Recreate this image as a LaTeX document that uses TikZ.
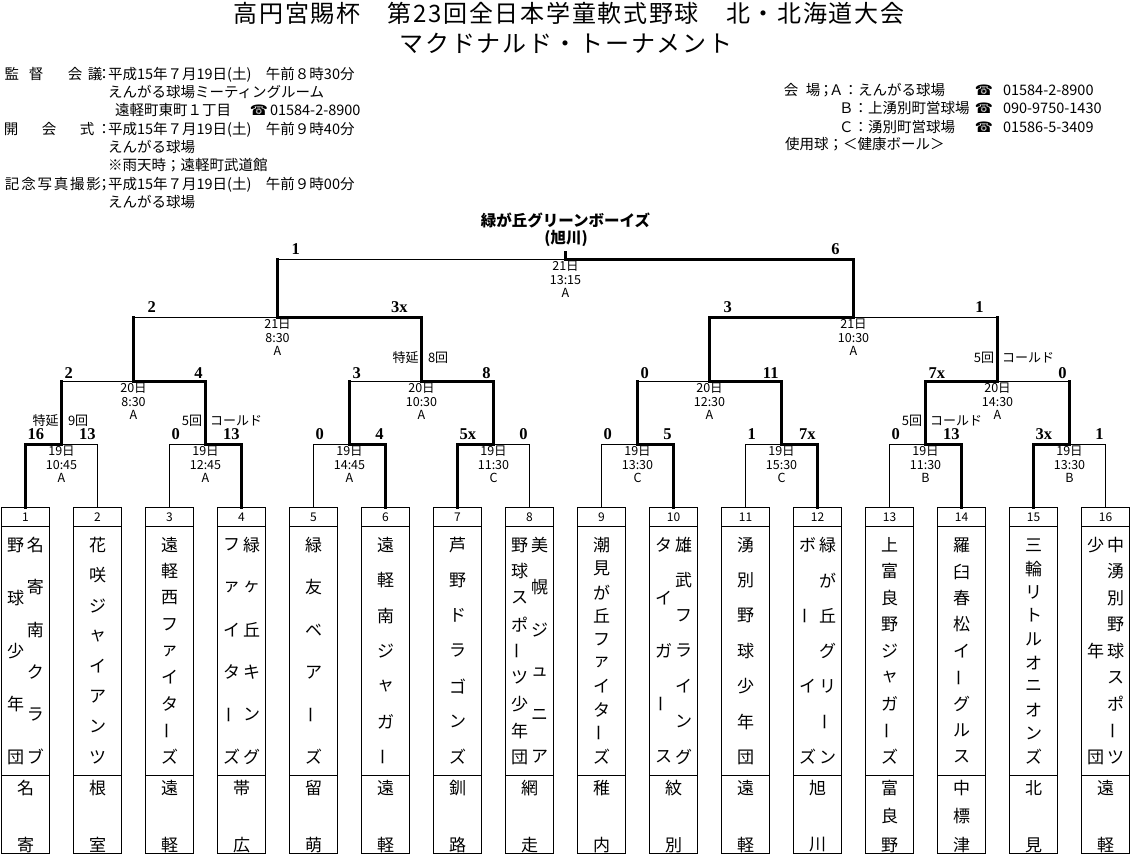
\documentclass[tikz,border=0pt]{standalone}
\usepackage{fontspec}
\setmainfont{Noto Sans CJK JP}
\newfontfamily\jptitle[LetterSpace=7]{Noto Sans CJK JP}
\newfontfamily\scorefont{Liberation Serif}
\newfontfamily\symfont{DejaVu Sans}
\newcommand\vcol[6]{%
  \foreach \ch [count=\k from 0] in {#6}{%
    \pgfmathsetmacro\yy{#3+\k*#4/(#5-1)}%
    \ifnum\strcmp{\ch}{ー}=0
      \node[teamch,rotate=90] (#1\k) at (#2,\yy) {\ch};%
    \else
      \node[teamch] (#1\k) at (#2,\yy) {\ch};%
    \fi
  }}
\newcommand\mdate[6]{%
  \node[dt] (#1d) at (#2,{#3+7.2}) {#4};
  \node[dt] (#1t) at (#2,{#3+20.8}) {#5};
  \node[dt] (#1v) at (#2,{#3+33.5}) {#6};}
\newcommand\scoreL[4]{\node[score,anchor=base west] (#1) at (#2,#3) {#4};}
\newcommand\scoreR[4]{\node[score,anchor=base east] (#1) at (#2,#3) {#4};}
\newcommand\winside[2]{\draw[win] (#1) |- (#2);}
\newcommand\loseside[2]{\draw[win] (#1) -- (#1 |- #2); \draw[lose] (#1 |- #2) -- (#2);}
\begin{document}
\begin{tikzpicture}[x=1pt,y=-1pt,
  every node/.style={inner sep=0pt,outer sep=0pt},
  hdr/.style={font=\fontsize{14.5}{16}\selectfont},
  tel/.style={font=\symfont\fontsize{14.5}{15}\selectfont},
  ttl/.style={font=\jptitle\fontsize{24}{26}\selectfont},
  wname/.style={font=\bfseries\fontsize{15.5}{16}\selectfont},
  win/.style={line width=3pt,line cap=rect},
  lose/.style={line width=1pt},
  score/.style={font=\scorefont\bfseries\fontsize{16.5}{17}\selectfont},
  dt/.style={font=\fontsize{12.5}{13}\selectfont},
  note/.style={font=\fontsize{13}{14}\selectfont},
  teamch/.style={font=\fontsize{17}{17}\selectfont},
  numlab/.style={font=\fontsize{12}{12}\selectfont},
  tbox/.style={draw,line width=1pt,minimum width=47.5pt,minimum height=346pt,anchor=north}]
\fill[white] (0,0) rectangle (1131,856);
\useasboundingbox (0,0) rectangle (1131,856);

% ---------- title ----------
\node[ttl] (title1) at (569,13) {高円宮賜杯　第23回全日本学童軟式野球　北・北海道大会};
\node[ttl] (title2) at (566,43) {マクドナルド・トーナメント};

% ---------- header left ----------
\foreach \c/\x [count=\k] in {監/12,督/36,会/75,議/95}{\node[hdr,anchor=base] (ha\k) at (\x,79.5) {\c};}
\node[hdr,anchor=base] (hac) at (104,79.5) {：};
\node[hdr,anchor=base west] (hat) at (108,79.5) {平成15年７月19日(土)　午前８時30分};
\node[hdr,anchor=base west] (hb) at (108,97.5) {えんがる球場ミーティングルーム};
\node[hdr,anchor=base west] (hc) at (115,115.5) {遠軽町東町１丁目};
\node[tel,anchor=base] (hct) at (259,115.5) {☎};
\node[hdr,anchor=base west] (hcn) at (270,115.5) {01584-2-8900};
\foreach \c/\x [count=\k] in {開/11,会/49,式/87}{\node[hdr,anchor=base] (hd\k) at (\x,134.5) {\c};}
\node[hdr,anchor=base] (hdc) at (104,134.5) {：};
\node[hdr,anchor=base west] (hdt) at (108,134.5) {平成15年７月19日(土)　午前９時40分};
\node[hdr,anchor=base west] (he) at (108,152.5) {えんがる球場};
\node[hdr,anchor=base west] (hf) at (108,170.5) {※雨天時；遠軽町武道館};
\foreach \c/\x [count=\k] in {記/12.2,念/28.5,写/44.8,真/61,撮/77.3,影/93.6}{\node[hdr,anchor=base] (hg\k) at (\x,189.5) {\c};}
\node[hdr,anchor=base] (hgc) at (104,189.5) {；};
\node[hdr,anchor=base west] (hgt) at (108,189.5) {平成15年７月19日(土)　午前９時00分};
\node[hdr,anchor=base west] (hh) at (108,207.5) {えんがる球場};

% ---------- header right ----------
\node[hdr,anchor=base] (ra1) at (791,95.5) {会};
\node[hdr,anchor=base] (ra2) at (813,95.5) {場};
\node[hdr,anchor=base] (ra3) at (826,95.5) {；};
\node[hdr,anchor=base west] (ra4) at (829,95.5) {Ａ：えんがる球場};
\node[tel,anchor=base] (rat) at (984,95.5) {☎};
\node[hdr,anchor=base west] (ran) at (1003,95.5) {01584-2-8900};
\node[hdr,anchor=base west] (rb) at (839,113.5) {Ｂ：上湧別町営球場};
\node[tel,anchor=base] (rbt) at (984,113.5) {☎};
\node[hdr,anchor=base west] (rbn) at (1003,113.5) {090-9750-1430};
\node[hdr,anchor=base west] (rc) at (839,132) {Ｃ：湧別町営球場};
\node[tel,anchor=base] (rct) at (984,132) {☎};
\node[hdr,anchor=base west] (rcn) at (1003,132) {01586-5-3409};
\node[hdr,anchor=base west] (rd) at (785,149.5) {使用球；＜健康ボール＞};

% ---------- champion ----------
\node[wname] (champname) at (565.5,220) {緑が丘グリーンボーイズ};
\node[wname] (champcity) at (566,238) {(旭川)};

% ---------- team boxes ----------
\foreach \i in {1,...,16}{
  \pgfmathsetmacro\cx{25.5+72*(\i-1)}
  \pgfmathsetmacro\lx{\cx-23.75}
  \pgfmathsetmacro\rx{\cx+23.75}
  \node[tbox] (b\i) at (\cx,507.5) {};
  \draw[lose] (\lx,526) -- (\rx,526);
  \draw[lose] (\lx,775) -- (\rx,775);
  \node[numlab] (n\i) at (\cx,517) {\i};
}

\vcol{t1r}{35.5}{545}{212}{6}{名,寄,南,ク,ラ,ブ}
\vcol{t1l}{15.5}{545}{212}{5}{野,球,少,年,団}
\vcol{c1}{25.5}{788}{57}{2}{名,寄}
\vcol{t2}{97.5}{545}{212}{8}{花,咲,ジ,ャ,イ,ア,ン,ツ}
\vcol{c2}{97.5}{788}{57}{2}{根,室}
\vcol{t3}{169.5}{545}{212}{9}{遠,軽,西,フ,ァ,イ,タ,ー,ズ}
\vcol{c3}{169.5}{788}{57}{2}{遠,軽}
\vcol{t4r}{251.5}{545}{212}{6}{緑,ヶ,丘,キ,ン,グ}
\vcol{t4l}{231.5}{545}{212}{6}{フ,ァ,イ,タ,ー,ズ}
\vcol{c4}{241.5}{788}{57}{2}{帯,広}
\vcol{t5}{313.5}{545}{212}{6}{緑,友,ベ,ア,ー,ズ}
\vcol{c5}{313.5}{788}{57}{2}{留,萌}
\vcol{t6}{385.5}{545}{212}{7}{遠,軽,南,ジ,ャ,ガ,ー}
\vcol{c6}{385.5}{788}{57}{2}{遠,軽}
\vcol{t7}{457.5}{545}{212}{7}{芦,野,ド,ラ,ゴ,ン,ズ}
\vcol{c7}{457.5}{788}{57}{2}{釧,路}
\vcol{t8r}{539.5}{545}{212}{6}{美,幌,ジ,ュ,ニ,ア}
\vcol{t8l}{519.5}{545}{212}{9}{野,球,ス,ポ,ー,ツ,少,年,団}
\vcol{c8}{529.5}{788}{57}{2}{網,走}
\vcol{t9}{601.5}{545}{212}{10}{潮,見,が,丘,フ,ァ,イ,タ,ー,ズ}
\vcol{c9}{601.5}{788}{57}{2}{稚,内}
\vcol{t10r}{683.5}{545}{212}{7}{雄,武,フ,ラ,イ,ン,グ}
\vcol{t10l}{663.5}{545}{212}{5}{タ,イ,ガ,ー,ス}
\vcol{c10}{673.5}{788}{57}{2}{紋,別}
\vcol{t11}{745.5}{545}{212}{7}{湧,別,野,球,少,年,団}
\vcol{c11}{745.5}{788}{57}{2}{遠,軽}
\vcol{t12r}{827.5}{545}{212}{7}{緑,が,丘,グ,リ,ー,ン}
\vcol{t12l}{807.5}{545}{212}{4}{ボ,ー,イ,ズ}
\vcol{c12}{817.5}{788}{57}{2}{旭,川}
\vcol{t13}{889.5}{545}{212}{9}{上,富,良,野,ジ,ャ,ガ,ー,ズ}
\vcol{c13}{889.5}{788}{57}{3}{富,良,野}
\vcol{t14}{961.5}{545}{212}{9}{羅,臼,春,松,イ,ー,グ,ル,ス}
\vcol{c14}{961.5}{788}{57}{3}{中,標,津}
\vcol{t15}{1033.5}{545}{212}{10}{三,輪,リ,ト,ル,オ,ニ,オ,ン,ズ}
\vcol{c15}{1033.5}{788}{57}{2}{北,見}
\vcol{t16r}{1115.5}{545}{212}{9}{中,湧,別,野,球,ス,ポ,ー,ツ}
\vcol{t16l}{1095.5}{545}{212}{3}{少,年,団}
\vcol{c16}{1105.5}{788}{57}{2}{遠,軽}

% ---------- bracket coordinates ----------
\foreach \k/\x in {1/61.5,2/205.5,3/349.5,4/493.5,5/637.5,6/781.5,7/925.5,8/1069.5}{\coordinate (m\k) at (\x,444);}
\foreach \k/\x in {1/133.5,2/421.5,3/709.5,4/997.5}{\coordinate (q\k) at (\x,381);}
\coordinate (s1) at (277.5,317);
\coordinate (s2) at (853.5,317);
\coordinate (f) at (565.5,259);
\coordinate (champ) at (565.5,252);

% round 1
\draw[lose] (b2.north) |- (m1);  \draw[win] (b1.north) |- (m1);
\draw[lose] (b3.north) |- (m2);  \draw[win] (b4.north) |- (m2);
\draw[lose] (b5.north) |- (m3);  \draw[win] (b6.north) |- (m3);
\draw[lose] (b8.north) |- (m4);  \draw[win] (b7.north) |- (m4);
\draw[lose] (b9.north) |- (m5);  \draw[win] (b10.north) |- (m5);
\draw[lose] (b11.north) |- (m6); \draw[win] (b12.north) |- (m6);
\draw[lose] (b13.north) |- (m7); \draw[win] (b14.north) |- (m7);
\draw[lose] (b16.north) |- (m8); \draw[win] (b15.north) |- (m8);
% round 2
\loseside{m1}{q1} \winside{m2}{q1}
\loseside{m3}{q2} \winside{m4}{q2}
\loseside{m5}{q3} \winside{m6}{q3}
\winside{m7}{q4} \loseside{m8}{q4}
% round 3
\loseside{q1}{s1} \winside{q2}{s1}
\winside{q3}{s2} \loseside{q4}{s2}
% final
\loseside{s1}{f} \winside{s2}{f}
\draw[win] (f) -- (champ);

% ---------- scores ----------
\scoreL{a1}{27.5}{439.5}{16}   \scoreR{a2}{95.5}{439.5}{13}
\scoreL{a3}{171.5}{439.5}{0}   \scoreR{a4}{239.5}{439.5}{13}
\scoreL{a5}{315.5}{439.5}{0}   \scoreR{a6}{383.5}{439.5}{4}
\scoreL{a7}{459.5}{439.5}{5x}  \scoreR{a8}{527.5}{439.5}{0}
\scoreL{a9}{603.5}{439.5}{0}   \scoreR{a10}{671.5}{439.5}{5}
\scoreL{a11}{747.5}{439.5}{1}  \scoreR{a12}{815.5}{439.5}{7x}
\scoreL{a13}{891.5}{439.5}{0}  \scoreR{a14}{959.5}{439.5}{13}
\scoreL{a15}{1035.5}{439.5}{3x} \scoreR{a16}{1103.5}{439.5}{1}
\scoreL{r1}{64.5}{378}{2}    \scoreR{r2}{202.5}{378}{4}
\scoreL{r3}{352.5}{378}{3}   \scoreR{r4}{490.5}{378}{8}
\scoreL{r5}{640.5}{378}{0}   \scoreR{r6}{778.5}{378}{11}
\scoreL{r7}{928.5}{378}{7x}  \scoreR{r8}{1066.5}{378}{0}
\scoreL{u1}{147.5}{312.5}{2}  \scoreR{u2}{407.5}{312.5}{3x}
\scoreL{u3}{723.5}{312.5}{3}  \scoreR{u4}{983.5}{312.5}{1}
\scoreL{v1}{291.5}{254.5}{1}  \scoreR{v2}{839.5}{254.5}{6}

% ---------- dates ----------
\mdate{dm1}{61.5}{444}{19日}{10:45}{A}
\mdate{dm2}{205.5}{444}{19日}{12:45}{A}
\mdate{dm3}{349.5}{444}{19日}{14:45}{A}
\mdate{dm4}{493.5}{444}{19日}{11:30}{C}
\mdate{dm5}{637.5}{444}{19日}{13:30}{C}
\mdate{dm6}{781.5}{444}{19日}{15:30}{C}
\mdate{dm7}{925.5}{444}{19日}{11:30}{B}
\mdate{dm8}{1069.5}{444}{19日}{13:30}{B}
\mdate{dq1}{133.5}{381}{20日}{8:30}{A}
\mdate{dq2}{421.5}{381}{20日}{10:30}{A}
\mdate{dq3}{709.5}{381}{20日}{12:30}{A}
\mdate{dq4}{997.5}{381}{20日}{14:30}{A}
\mdate{ds1}{277.5}{317}{21日}{8:30}{A}
\mdate{ds2}{853.5}{317}{21日}{10:30}{A}
\mdate{df}{565.5}{259}{21日}{13:15}{A}

% ---------- notes ----------
\node[note,anchor=base east] (k1a) at (58.5,425) {特延};
\node[note,anchor=base west] (k1b) at (68,425) {9回};
\node[note,anchor=base east] (k2a) at (202,425) {5回};
\node[note,anchor=base west] (k2b) at (210,425) {コールド};
\node[note,anchor=base east] (k3a) at (922,425) {5回};
\node[note,anchor=base west] (k3b) at (930,425) {コールド};
\node[note,anchor=base east] (k4a) at (418.5,362) {特延};
\node[note,anchor=base west] (k4b) at (428,362) {8回};
\node[note,anchor=base east] (k5a) at (994,362) {5回};
\node[note,anchor=base west] (k5b) at (1002,362) {コールド};
\end{tikzpicture}
\end{document}
